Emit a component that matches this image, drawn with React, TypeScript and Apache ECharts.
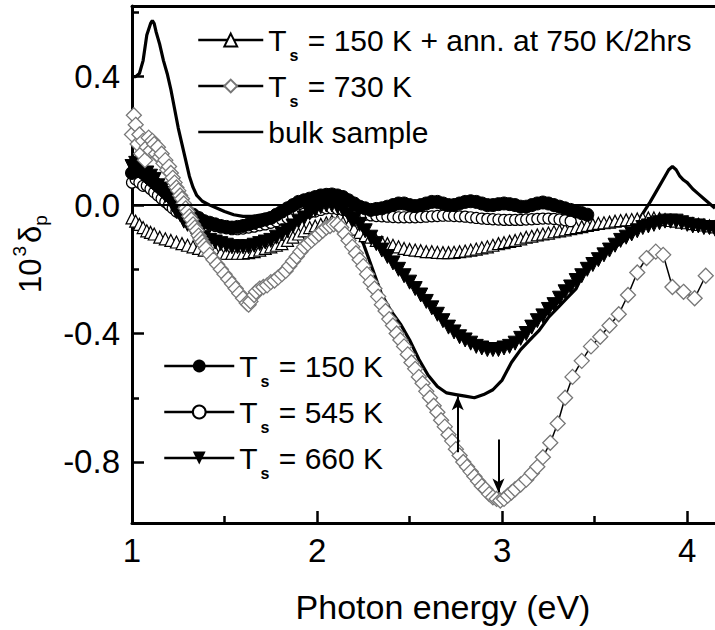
import React, { useEffect, useRef } from "react";
import * as echarts from "echarts";

// ---------- data (photon energy in eV, 10^3 delta_p) ----------
const ts150: [number, number][] = [
  [1.0, 0.1], [1.02, 0.11], [1.04, 0.12], [1.06, 0.1], [1.08, 0.09], [1.1, 0.08], [1.12, 0.07], [1.14, 0.06],
  [1.16, 0.05], [1.18, 0.04], [1.2, 0.03], [1.22, 0.02], [1.24, 0.01], [1.26, 0.0], [1.28, -0.01], [1.3, -0.02],
  [1.33, -0.03], [1.36, -0.04], [1.39, -0.05], [1.42, -0.055], [1.45, -0.06], [1.48, -0.065], [1.51, -0.068],
  [1.54, -0.07], [1.57, -0.068], [1.6, -0.065], [1.63, -0.06], [1.66, -0.055], [1.69, -0.05], [1.72, -0.045],
  [1.75, -0.04], [1.78, -0.03], [1.81, -0.02], [1.84, -0.01], [1.87, 0.0], [1.9, 0.01], [1.93, 0.015],
  [1.96, 0.02], [1.99, 0.025], [2.02, 0.03], [2.05, 0.032], [2.08, 0.033], [2.11, 0.03], [2.14, 0.025],
  [2.17, 0.015], [2.2, 0.005], [2.23, -0.005], [2.26, -0.01], [2.29, -0.015], [2.32, -0.012], [2.35, -0.01],
  [2.38, -0.005], [2.41, 0.0], [2.44, 0.005], [2.47, 0.005], [2.5, 0.0], [2.53, -0.003], [2.56, 0.0],
  [2.59, 0.005], [2.62, 0.01], [2.65, 0.01], [2.68, 0.005], [2.71, 0.0], [2.74, 0.0], [2.77, 0.005],
  [2.8, 0.01], [2.83, 0.012], [2.86, 0.01], [2.89, 0.005], [2.92, 0.0], [2.95, 0.0], [2.98, 0.003],
  [3.01, 0.005], [3.04, 0.003], [3.07, 0.0], [3.1, -0.005], [3.13, -0.005], [3.16, 0.0], [3.19, 0.005],
  [3.22, 0.008], [3.25, 0.005], [3.28, 0.0], [3.31, -0.005], [3.34, -0.01], [3.37, -0.015], [3.4, -0.02],
  [3.43, -0.025], [3.46, -0.03],
];

const ts545: [number, number][] = [
  [1.0, 0.07], [1.02, 0.08], [1.04, 0.07], [1.06, 0.06], [1.08, 0.06], [1.1, 0.05], [1.12, 0.04], [1.14, 0.03],
  [1.16, 0.02], [1.18, 0.01], [1.2, 0.0], [1.22, -0.01], [1.24, -0.02], [1.26, -0.025], [1.28, -0.03],
  [1.3, -0.035], [1.33, -0.045], [1.36, -0.05], [1.39, -0.055], [1.42, -0.06], [1.45, -0.065], [1.48, -0.07],
  [1.51, -0.072], [1.54, -0.075], [1.57, -0.075], [1.6, -0.073], [1.63, -0.07], [1.66, -0.067], [1.69, -0.063],
  [1.72, -0.06], [1.75, -0.055], [1.78, -0.05], [1.81, -0.045], [1.84, -0.04], [1.87, -0.035], [1.9, -0.03],
  [1.93, -0.027], [1.96, -0.023], [1.99, -0.02], [2.02, -0.015], [2.05, -0.01], [2.08, -0.01], [2.11, -0.012],
  [2.14, -0.015], [2.17, -0.02], [2.2, -0.025], [2.23, -0.028], [2.26, -0.03], [2.29, -0.032], [2.32, -0.034],
  [2.35, -0.035], [2.38, -0.036], [2.41, -0.037], [2.44, -0.038], [2.47, -0.038], [2.5, -0.038], [2.53, -0.038],
  [2.56, -0.037], [2.59, -0.036], [2.62, -0.035], [2.65, -0.034], [2.68, -0.033], [2.71, -0.033], [2.74, -0.034],
  [2.77, -0.035], [2.8, -0.036], [2.83, -0.038], [2.86, -0.04], [2.89, -0.042], [2.92, -0.043], [2.95, -0.044],
  [2.98, -0.045], [3.01, -0.046], [3.04, -0.046], [3.07, -0.046], [3.1, -0.046], [3.13, -0.045], [3.16, -0.044],
  [3.19, -0.043], [3.22, -0.042], [3.25, -0.042], [3.28, -0.043], [3.31, -0.045], [3.34, -0.047], [3.37, -0.05],
];

const ts660: [number, number][] = [
  [1.0, 0.12], [1.02, 0.13], [1.04, 0.11], [1.06, 0.12], [1.08, 0.1], [1.1, 0.09], [1.12, 0.08], [1.14, 0.06],
  [1.16, 0.05], [1.18, 0.03], [1.2, 0.02], [1.22, 0.0], [1.24, -0.02], [1.26, -0.03], [1.28, -0.05], [1.3, -0.06],
  [1.33, -0.08], [1.36, -0.09], [1.39, -0.1], [1.42, -0.11], [1.45, -0.115], [1.48, -0.12], [1.51, -0.125],
  [1.54, -0.13], [1.57, -0.13], [1.6, -0.13], [1.63, -0.13], [1.66, -0.125], [1.69, -0.12], [1.72, -0.115],
  [1.75, -0.11], [1.78, -0.1], [1.81, -0.09], [1.84, -0.08], [1.87, -0.065], [1.9, -0.05], [1.93, -0.04],
  [1.96, -0.025], [1.99, -0.015], [2.02, -0.005], [2.05, 0.0], [2.08, 0.0], [2.11, -0.005], [2.14, -0.015],
  [2.17, -0.03], [2.2, -0.045], [2.23, -0.06], [2.26, -0.08], [2.29, -0.1], [2.32, -0.12], [2.35, -0.14],
  [2.38, -0.16], [2.41, -0.18], [2.44, -0.2], [2.47, -0.22], [2.5, -0.24], [2.53, -0.26], [2.56, -0.28],
  [2.59, -0.3], [2.62, -0.32], [2.65, -0.34], [2.68, -0.36], [2.71, -0.38], [2.74, -0.395], [2.77, -0.41],
  [2.8, -0.42], [2.83, -0.43], [2.86, -0.44], [2.89, -0.445], [2.92, -0.45], [2.95, -0.45], [2.98, -0.45],
  [3.01, -0.445], [3.04, -0.44], [3.07, -0.43], [3.1, -0.415], [3.13, -0.4], [3.16, -0.38], [3.19, -0.36],
  [3.22, -0.345], [3.25, -0.325], [3.28, -0.31], [3.31, -0.29], [3.34, -0.27], [3.37, -0.255], [3.4, -0.235],
  [3.43, -0.22], [3.46, -0.2], [3.49, -0.185], [3.52, -0.17], [3.55, -0.155], [3.58, -0.14], [3.61, -0.125],
  [3.64, -0.11], [3.67, -0.1], [3.7, -0.09], [3.73, -0.08], [3.76, -0.07], [3.79, -0.065], [3.82, -0.06],
  [3.85, -0.055], [3.88, -0.05], [3.91, -0.05], [3.94, -0.05], [3.97, -0.055], [4.0, -0.06], [4.03, -0.065],
  [4.06, -0.065], [4.09, -0.07], [4.12, -0.07], [4.15, -0.075],
];

const ts150Ann: [number, number][] = [
  [1.0, -0.04], [1.02, -0.05], [1.04, -0.06], [1.06, -0.07], [1.08, -0.08], [1.1, -0.085], [1.12, -0.09],
  [1.15, -0.1], [1.18, -0.105], [1.21, -0.11], [1.24, -0.115], [1.27, -0.12], [1.3, -0.125], [1.33, -0.13],
  [1.36, -0.135], [1.39, -0.14], [1.42, -0.14], [1.45, -0.145], [1.48, -0.15], [1.51, -0.15], [1.54, -0.15],
  [1.57, -0.15], [1.6, -0.15], [1.63, -0.148], [1.66, -0.145], [1.69, -0.14], [1.72, -0.135], [1.75, -0.13],
  [1.78, -0.125], [1.81, -0.12], [1.84, -0.11], [1.87, -0.1], [1.9, -0.09], [1.93, -0.08], [1.96, -0.07],
  [1.99, -0.065], [2.02, -0.06], [2.05, -0.055], [2.08, -0.05], [2.11, -0.05], [2.14, -0.055], [2.17, -0.065],
  [2.2, -0.075], [2.23, -0.085], [2.26, -0.095], [2.29, -0.1], [2.32, -0.11], [2.35, -0.115], [2.38, -0.12],
  [2.41, -0.125], [2.44, -0.13], [2.47, -0.135], [2.5, -0.138], [2.53, -0.14], [2.56, -0.142], [2.59, -0.145],
  [2.62, -0.145], [2.65, -0.147], [2.68, -0.148], [2.71, -0.148], [2.74, -0.147], [2.77, -0.145], [2.8, -0.143],
  [2.83, -0.14], [2.86, -0.137], [2.89, -0.133], [2.92, -0.13], [2.95, -0.125], [2.98, -0.12], [3.01, -0.117],
  [3.04, -0.113], [3.07, -0.11], [3.1, -0.105], [3.13, -0.1], [3.16, -0.097], [3.19, -0.093], [3.22, -0.09],
  [3.25, -0.087], [3.28, -0.083], [3.31, -0.08], [3.34, -0.077], [3.37, -0.073], [3.4, -0.07], [3.43, -0.067],
  [3.46, -0.063], [3.49, -0.06], [3.52, -0.057], [3.55, -0.055], [3.58, -0.053], [3.61, -0.05], [3.64, -0.048],
  [3.67, -0.046], [3.7, -0.045], [3.73, -0.043], [3.76, -0.042], [3.79, -0.04], [3.82, -0.04], [3.85, -0.042],
  [3.88, -0.045], [3.91, -0.048], [3.94, -0.05], [3.97, -0.053], [4.0, -0.055], [4.03, -0.058], [4.06, -0.06],
  [4.09, -0.062], [4.12, -0.065], [4.15, -0.068],
];

const ts730: [number, number][] = [
  [1.0, 0.22], [1.01, 0.28], [1.02, 0.25], [1.03, 0.19], [1.04, 0.22], [1.05, 0.16], [1.06, 0.2], [1.07, 0.14],
  [1.08, 0.18], [1.09, 0.21], [1.1, 0.17], [1.11, 0.2], [1.12, 0.19], [1.13, 0.16], [1.14, 0.18], [1.15, 0.15],
  [1.16, 0.16], [1.17, 0.13], [1.18, 0.14], [1.19, 0.11], [1.2, 0.12], [1.21, 0.1], [1.22, 0.085], [1.23, 0.07],
  [1.24, 0.055], [1.25, 0.045], [1.26, 0.03], [1.27, 0.02], [1.28, 0.005], [1.29, -0.01], [1.3, -0.02],
  [1.31, -0.035], [1.32, -0.045], [1.33, -0.06], [1.34, -0.07], [1.35, -0.08], [1.36, -0.095], [1.37, -0.105],
  [1.38, -0.115], [1.39, -0.125], [1.4, -0.135], [1.42, -0.155], [1.44, -0.17], [1.46, -0.185], [1.48, -0.2],
  [1.5, -0.215], [1.52, -0.23], [1.54, -0.245], [1.56, -0.26], [1.58, -0.275], [1.6, -0.29], [1.62, -0.305],
  [1.63, -0.31], [1.64, -0.3], [1.66, -0.28], [1.67, -0.27], [1.69, -0.26], [1.71, -0.255], [1.73, -0.25],
  [1.75, -0.24], [1.77, -0.235], [1.79, -0.225], [1.81, -0.215], [1.83, -0.205], [1.85, -0.19], [1.87, -0.175],
  [1.89, -0.16], [1.91, -0.145], [1.93, -0.13], [1.95, -0.12], [1.97, -0.11], [1.99, -0.1], [2.01, -0.09],
  [2.03, -0.08], [2.05, -0.07], [2.07, -0.065], [2.09, -0.06], [2.11, -0.06], [2.13, -0.07], [2.15, -0.09],
  [2.17, -0.11], [2.19, -0.13], [2.21, -0.15], [2.23, -0.17], [2.25, -0.19], [2.27, -0.215], [2.29, -0.24],
  [2.31, -0.26], [2.33, -0.285], [2.35, -0.31], [2.37, -0.33], [2.39, -0.355], [2.41, -0.375], [2.43, -0.4],
  [2.45, -0.42], [2.47, -0.44], [2.49, -0.465], [2.51, -0.49], [2.53, -0.51], [2.55, -0.535], [2.57, -0.555],
  [2.59, -0.58], [2.61, -0.6], [2.63, -0.625], [2.65, -0.645], [2.67, -0.67], [2.69, -0.69], [2.71, -0.715],
  [2.73, -0.735], [2.75, -0.76], [2.77, -0.78], [2.79, -0.8], [2.81, -0.815], [2.83, -0.83], [2.85, -0.845],
  [2.87, -0.86], [2.89, -0.875], [2.91, -0.885], [2.93, -0.9], [2.95, -0.91], [2.97, -0.915], [2.99, -0.92],
  [3.01, -0.915], [3.03, -0.905], [3.05, -0.895], [3.07, -0.885], [3.1, -0.87], [3.13, -0.855], [3.16, -0.835],
  [3.19, -0.815], [3.22, -0.785], [3.26, -0.74], [3.3, -0.68], [3.34, -0.6], [3.38, -0.535], [3.43, -0.485],
  [3.48, -0.44], [3.53, -0.41], [3.58, -0.375], [3.63, -0.34], [3.68, -0.28], [3.73, -0.21], [3.78, -0.165],
  [3.83, -0.145], [3.87, -0.155], [3.92, -0.255], [3.98, -0.27], [4.04, -0.29], [4.1, -0.22],
];

const bulk: [number, number][] = [
  [1.0, 0.4], [1.02, 0.4], [1.04, 0.41], [1.06, 0.45], [1.08, 0.53], [1.1, 0.565], [1.11, 0.575], [1.12, 0.565],
  [1.13, 0.54], [1.14, 0.52], [1.15, 0.5], [1.17, 0.45], [1.19, 0.41], [1.21, 0.36], [1.23, 0.3], [1.25, 0.24],
  [1.27, 0.19], [1.29, 0.14], [1.31, 0.09], [1.33, 0.055], [1.35, 0.03], [1.38, 0.012], [1.42, 0.0],
  [1.46, -0.01], [1.5, -0.02], [1.55, -0.03], [1.6, -0.035], [1.65, -0.035], [1.7, -0.03], [1.75, -0.025],
  [1.8, -0.015], [1.85, -0.005], [1.9, 0.005], [1.95, 0.01], [2.0, 0.015], [2.05, 0.02], [2.1, 0.015],
  [2.15, -0.02], [2.2, -0.07], [2.25, -0.12], [2.3, -0.2], [2.35, -0.28], [2.4, -0.33], [2.45, -0.37],
  [2.5, -0.42], [2.55, -0.48], [2.6, -0.53], [2.65, -0.565], [2.7, -0.585], [2.75, -0.59], [2.8, -0.595],
  [2.85, -0.6], [2.9, -0.59], [2.95, -0.575], [3.0, -0.545], [3.05, -0.49], [3.1, -0.45], [3.15, -0.42],
  [3.2, -0.39], [3.25, -0.35], [3.3, -0.32], [3.35, -0.29], [3.4, -0.26], [3.45, -0.2], [3.5, -0.17],
  [3.55, -0.15], [3.6, -0.135], [3.65, -0.115], [3.7, -0.085], [3.75, -0.035], [3.8, 0.01], [3.85, 0.06],
  [3.88, 0.09], [3.9, 0.11], [3.92, 0.12], [3.94, 0.11], [3.96, 0.09], [3.98, 0.078], [4.0, 0.07], [4.03, 0.05],
  [4.06, 0.035], [4.09, 0.02], [4.12, 0.005], [4.15, -0.01],
];

// arrows: [energy, from, to]
const arrowBulkMin: [number, number, number] = [2.76, -0.77, -0.595];
const arrow730Min: [number, number, number] = [2.98, -0.73, -0.895];

const xMajorTicks = [1, 2, 3, 4];
const xMinorTicks = [1.5, 2.5, 3.5];
const yMajorTicks = [-0.8, -0.4, 0, 0.4];
const yMinorTicks = [-0.6, -0.2, 0.2, 0.6];

const X_MIN = 1;
const X_MAX = 4.15;
const Y_MIN = -0.99;
const Y_MAX = 0.62;

const N_ANN = "T_s = 150 K + ann. at 750 K/2hrs";
const N_730 = "T_s = 730 K";
const N_BULK = "bulk sample";
const N_150 = "T_s = 150 K";
const N_545 = "T_s = 545 K";
const N_660 = "T_s = 660 K";

const FONT = "'Liberation Sans', Arial, Helvetica, sans-serif";

export default function App() {
  const ref = useRef<HTMLDivElement>(null);
  useEffect(() => {
    if (!ref.current) return;
    const chart = echarts.init(ref.current, null, { renderer: "svg" });
    const grid = { left: 132, top: 6, width: 583, height: 517 };
    const black = "#000";
    const legendText = {
      fontSize: 30,
      fontFamily: FONT,
      color: black,
      lineHeight: 46,
      rich: {
        s: { fontSize: 16, fontWeight: "bold", fontFamily: FONT, color: black, lineHeight: 16, verticalAlign: "bottom", padding: [0, 1, 0, 3] },
      },
    };
    const fmt = (name: string) => name.replace("T_s", "T{s|s}");
    const option: any = {
      animation: false,
      backgroundColor: "#fff",
      grid: [grid, { ...grid }],
      xAxis: [
        {
          type: "value", gridIndex: 0, position: "bottom", min: X_MIN, max: X_MAX,
          axisLine: { show: true, onZero: false, lineStyle: { color: black, width: 3 } },
          axisTick: { show: true, inside: true, length: 12, lineStyle: { color: black, width: 2.5 }, customValues: xMajorTicks },
          axisLabel: { show: true, customValues: xMajorTicks, fontSize: 33, fontFamily: FONT, color: black, margin: 11 },
          splitLine: { show: false },
        },
        {
          type: "value", gridIndex: 0, position: "top", min: X_MIN, max: X_MAX,
          axisLine: { show: true, onZero: false, lineStyle: { color: black, width: 3 } },
          axisTick: { show: false }, axisLabel: { show: false }, splitLine: { show: false },
        },
        {
          type: "value", gridIndex: 1, position: "bottom", min: X_MIN, max: X_MAX,
          axisLine: { show: false, onZero: false },
          axisTick: { show: true, inside: true, length: 7, lineStyle: { color: black, width: 2.5 }, customValues: xMinorTicks },
          axisLabel: { show: false }, splitLine: { show: false },
        },
      ],
      yAxis: [
        {
          type: "value", gridIndex: 0, position: "left", min: Y_MIN, max: Y_MAX,
          axisLine: { show: true, onZero: false, lineStyle: { color: black, width: 3 } },
          axisTick: { show: true, inside: true, length: 12, lineStyle: { color: black, width: 2.5 }, customValues: yMajorTicks },
          axisLabel: {
            show: true, customValues: yMajorTicks, fontSize: 33, fontFamily: FONT, color: black, margin: 12,
            formatter: (v: number) => v.toFixed(1),
          },
          splitLine: { show: false },
        },
        {
          type: "value", gridIndex: 1, position: "left", min: Y_MIN, max: Y_MAX,
          axisLine: { show: false, onZero: false },
          axisTick: { show: true, inside: true, length: 7, lineStyle: { color: black, width: 2.5 }, customValues: yMinorTicks },
          axisLabel: { show: false }, splitLine: { show: false },
        },
      ],
      legend: [
        {
          data: [N_ANN, N_730, N_BULK],
          orient: "vertical", left: 192, top: 12, itemWidth: 65, itemHeight: 16, itemGap: 0,
          selectedMode: false, formatter: fmt, textStyle: legendText,
          lineStyle: { color: black, width: 2.5 },
        },
        {
          data: [N_150, N_545, N_660],
          orient: "vertical", left: 158, top: 338, itemWidth: 70, itemHeight: 16, itemGap: 0,
          selectedMode: false, formatter: fmt, textStyle: legendText,
          lineStyle: { color: black, width: 2.5 },
        },
      ],
      graphic: [
        {
          type: "text", x: 443, y: 607,
          style: { text: "Photon energy (eV)", fontSize: 34, fontFamily: FONT, fill: black, align: "center", verticalAlign: "middle" },
        },
        {
          type: "text", x: 30, y: 254, rotation: Math.PI / 2,
          style: {
            text: "10{sup|3}δ{sub|p}", fontSize: 31, fontFamily: FONT, fill: black, align: "center", verticalAlign: "middle",
            lineHeight: 40,
            rich: {
              sup: { fontSize: 19, fontFamily: FONT, fill: black, lineHeight: 19, verticalAlign: "top", padding: [0, 3, 0, 2] },
              sub: { fontSize: 19, fontFamily: FONT, fill: black, lineHeight: 19, verticalAlign: "bottom" },
            },
          },
        },
      ],
      series: [
        {
          name: N_ANN, type: "line", xAxisIndex: 0, yAxisIndex: 0, data: ts150Ann,
          symbol: "triangle", symbolSize: 12, showAllSymbol: true,
          itemStyle: { color: "#fff", borderColor: black, borderWidth: 1.2 },
          lineStyle: { color: black, width: 1 },
        },
        {
          name: N_545, type: "line", xAxisIndex: 0, yAxisIndex: 0, data: ts545,
          symbol: "circle", symbolSize: 11, showAllSymbol: true,
          itemStyle: { color: "#fff", borderColor: black, borderWidth: 1.2 },
          lineStyle: { color: black, width: 1 },
        },
        {
          name: N_150, type: "line", xAxisIndex: 0, yAxisIndex: 0, data: ts150,
          symbol: "circle", symbolSize: 13, showAllSymbol: true,
          itemStyle: { color: black, borderColor: black },
          lineStyle: { color: black, width: 1 },
          markLine: {
            silent: true, symbol: "none", label: { show: false },
            lineStyle: { color: black, width: 2, type: "solid" },
            data: [{ yAxis: 0 }],
          },
        },
        {
          name: N_660, type: "line", xAxisIndex: 0, yAxisIndex: 0, data: ts660,
          symbol: "triangle", symbolRotate: 180, symbolSize: 14, showAllSymbol: true,
          itemStyle: { color: black, borderColor: black },
          lineStyle: { color: black, width: 1 },
        },
        {
          name: N_730, type: "line", xAxisIndex: 0, yAxisIndex: 0, data: ts730,
          symbol: "diamond", symbolSize: 15, showAllSymbol: true,
          itemStyle: { color: "#fff", borderColor: "#777", borderWidth: 1.3 },
          lineStyle: { color: black, width: 1.5 },
        },
        {
          name: N_BULK, type: "line", xAxisIndex: 0, yAxisIndex: 0, data: bulk,
          symbol: "none", showSymbol: false,
          itemStyle: { color: black, opacity: 0 },
          lineStyle: { color: black, width: 3.2 },
          markLine: {
            silent: true, symbol: ["none", "arrow"], symbolSize: [9, 14], label: { show: false },
            lineStyle: { color: black, width: 2, type: "solid" },
            data: [
              [{ coord: [arrowBulkMin[0], arrowBulkMin[1]] }, { coord: [arrowBulkMin[0], arrowBulkMin[2]] }],
              [{ coord: [arrow730Min[0], arrow730Min[1]] }, { coord: [arrow730Min[0], arrow730Min[2]] }],
            ],
          },
        },
      ],
    };
    chart.setOption(option);
    return () => chart.dispose();
  }, []);
  return <div ref={ref} style={{ position: "absolute", left: 0, top: 0, width: 715, height: 630 }} />;
}
